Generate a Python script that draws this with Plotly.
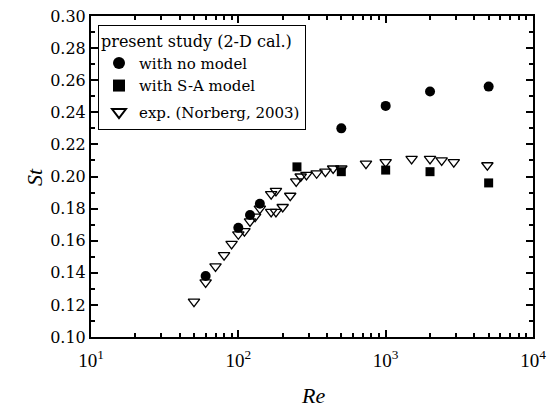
import plotly.graph_objects as go

# Present study, 2-D calculation, no turbulence model
re_nomodel = [60, 100, 120, 140, 500, 1000, 2000, 5000]
st_nomodel = [0.138, 0.168, 0.176, 0.183, 0.230, 0.244, 0.253, 0.256]

# Present study, S-A model
re_sa = [250, 500, 1000, 2000, 5000]
st_sa = [0.206, 0.203, 0.204, 0.203, 0.196]

# Experiment (Norberg, 2003)
re_exp = [50, 60, 70, 80, 90, 100, 110, 120, 130, 140, 167, 180, 167, 180,
          200, 225, 247, 265, 290, 340, 390, 440, 500, 735, 1000, 1500,
          2000, 2400, 2900, 4900]
st_exp = [0.122, 0.134, 0.144, 0.151, 0.158, 0.164, 0.166, 0.172, 0.175, 0.180,
          0.189, 0.191, 0.178, 0.178, 0.181, 0.188, 0.197, 0.200, 0.201, 0.202,
          0.203, 0.205, 0.205, 0.208, 0.209, 0.211, 0.211, 0.210, 0.209, 0.207]

x_tickvals = [10, 100, 1000, 10000]
x_ticktext = ["10<sup>1</sup>", "10<sup>2</sup>", "10<sup>3</sup>", "10<sup>4</sup>"]
x_minor_vals = [m * d for d in (10, 100, 1000) for m in range(2, 10)]

SERIF = "Liberation Serif, Times New Roman, serif"
WIDE = "DejaVu Serif, serif"

W, H = 554, 407
L, R, T, B = 91, 21, 16, 70
pw, ph = W - L - R, H - T - B


def px_x(x):
    return (x - L) / pw


def px_y(y):
    return (H - B - y) / ph


fig = go.Figure()
fig.add_trace(go.Scatter(
    x=re_nomodel, y=st_nomodel, mode="markers", name="with no model",
    legendgroup="a",
    marker=dict(symbol="circle", size=10, color="black", line=dict(width=0))))
fig.add_trace(go.Scatter(
    x=re_sa, y=st_sa, mode="markers", name="with S-A model",
    legendgroup="a",
    marker=dict(symbol="square", size=9, color="black", line=dict(width=0))))
fig.add_trace(go.Scatter(
    x=re_exp, y=st_exp, mode="markers", name="exp. (Norberg, 2003)",
    legendgroup="b",
    marker=dict(symbol="triangle-down-open", size=10, color="black",
                line=dict(width=1.3, color="black"))))

fig.update_layout(
    width=W, height=H,
    margin=dict(l=L, r=R, t=T, b=B),
    paper_bgcolor="white", plot_bgcolor="white",
    font=dict(family=WIDE, size=15, color="black"),
    showlegend=True,
    legend=dict(
        x=px_x(98), y=px_y(25), xanchor="left", yanchor="top",
        bgcolor="white", bordercolor="black", borderwidth=1,
        font=dict(family=WIDE, size=15, color="black"),
        title=dict(text="present study (2-D cal.)", font=dict(family=WIDE, size=16)),
        tracegroupgap=4, itemsizing="constant",
    ),
    xaxis=dict(
        type="log", range=[1, 4], automargin=False,
        tickvals=x_tickvals, ticktext=x_ticktext,
        ticks="inside", ticklen=7, tickwidth=1.5, tickcolor="black",
        minor=dict(tickmode="array", tickvals=x_minor_vals, ticks="inside",
                   ticklen=4, tickcolor="black", showgrid=False),
        showline=True, linecolor="black", linewidth=2, mirror="ticks",
        showgrid=False, zeroline=False, ticklabeloverflow="allow",
        ticklabelstandoff=5,
        tickfont=dict(family=SERIF, size=19),
    ),
    yaxis=dict(
        range=[0.10, 0.30], dtick=0.02, tick0=0.10, tickformat=".2f",
        automargin=False,
        ticks="inside", ticklen=7, tickwidth=1.5, tickcolor="black",
        minor=dict(dtick=0.01, ticks="inside", ticklen=4, tickcolor="black", showgrid=False),
        showline=True, linecolor="black", linewidth=2, mirror="ticks",
        showgrid=False, zeroline=False,
        tickfont=dict(family=WIDE, size=16),
    ),
    annotations=[
        dict(text="<i>Re</i>", x=px_x(313), y=px_y(396), xref="paper", yref="paper",
             xanchor="center", yanchor="middle",
             showarrow=False, font=dict(family=SERIF, size=22)),
        dict(text="<i>St</i>", x=px_x(35), y=px_y(177), xref="paper", yref="paper",
             xanchor="center", yanchor="middle", textangle=-90,
             showarrow=False, font=dict(family=SERIF, size=22)),
    ],
)

fig.write_html("out.html", config={"displayModeBar": False},
               post_script="document.body.style.margin='0px';")
